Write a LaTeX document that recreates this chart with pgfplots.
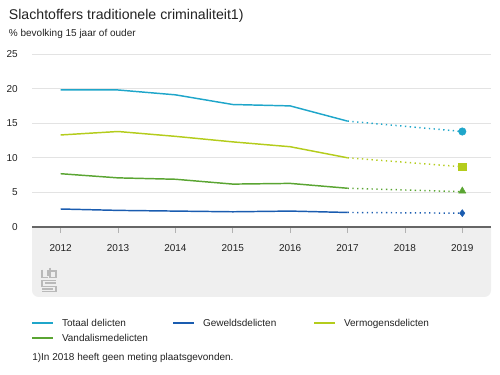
\documentclass[border=0pt]{standalone}
\usepackage{pgfplots}
\pgfplotsset{compat=1.18}
\usepackage{fontspec}
\setmainfont{Liberation Sans}
\definecolor{cTot}{HTML}{1FA6CA}
\definecolor{cGew}{HTML}{1A5CB0}
\definecolor{cVer}{HTML}{B4CC1C}
\definecolor{cVan}{HTML}{5AA532}
\definecolor{cBand}{HTML}{EFEFEF}
\definecolor{cGrid}{HTML}{E3E3E3}
\definecolor{cAxis}{HTML}{666666}
\definecolor{cText}{HTML}{222222}
\begin{document}
\begin{tikzpicture}
\useasboundingbox (0pt,0pt) rectangle (375pt,281.25pt);
% gray band below axis
\fill[cBand] (24pt,111pt) {[rounded corners=5pt] -- (24pt,58.5pt) -- (368.25pt,58.5pt)} -- (368.25pt,111pt) -- cycle;
% logo approximation
\begin{scope}[draw=gray!55, line width=0.8pt]
\draw (31.5pt,79pt) -- (31.5pt,73pt) -- (36pt,73pt);
\draw (36pt,74.5pt) -- (36pt,78.5pt);
\draw (37.5pt,80.5pt) -- (37.5pt,73pt) -- (42pt,73pt) -- (42pt,78pt) -- (37.5pt,78pt);
\draw (31.5pt,71pt) -- (42pt,71pt);
\draw (31.5pt,71pt) -- (31.5pt,66.5pt) -- (42pt,66.5pt) -- (42pt,62.5pt) -- (31.5pt,62.5pt);
\draw (33.5pt,69pt) -- (42pt,69pt);
\draw (31.5pt,64.5pt) -- (40pt,64.5pt);
\end{scope}
\begin{axis}[
  at={(24pt,111pt)}, anchor=south west,
  width=344.25pt, height=129.75pt, scale only axis,
  xmin=2011.5, xmax=2019.5, ymin=0, ymax=25,
  xtick={2012,...,2019}, ytick={0,5,10,15,20,25},
  xticklabel style={/pgf/number format/1000 sep={}, anchor=center, yshift=-11pt, font=\fontsize{7.5}{9}\selectfont, text=cText},
  yticklabel style={anchor=east, inner sep=0pt, xshift=-10.5pt, font=\fontsize{7.5}{9}\selectfont, text=cText},
  /pgf/number format/assume math mode=true,
  axis x line*=bottom, axis y line*=left,
  x axis line style={draw=cAxis, line width=1.2pt},
  y axis line style={draw=none},
  ymajorgrids, grid style={cGrid, line width=0.6pt},
  xtick align=outside, ytick align=inside, major tick length=4.5pt,
  xtick style={draw=gray!60, line width=0.5pt},
  ytick style={draw=none},
  clip=false,
]
% solid parts
\addplot[cTot, line width=1.1pt] coordinates {(2012,19.8) (2013,19.8) (2014,19.1) (2015,17.7) (2016,17.5) (2017,15.3)};
\addplot[cVer, line width=1.1pt] coordinates {(2012,13.3) (2013,13.8) (2014,13.1) (2015,12.3) (2016,11.6) (2017,10.0)};
\addplot[cVan, line width=1.1pt] coordinates {(2012,7.7) (2013,7.1) (2014,6.9) (2015,6.2) (2016,6.3) (2017,5.6)};
\addplot[cGew, line width=1.1pt] coordinates {(2012,2.6) (2013,2.4) (2014,2.3) (2015,2.2) (2016,2.3) (2017,2.1)};
% dotted parts
\addplot[cTot, line width=1.1pt, dash pattern=on 1pt off 2.6pt] coordinates {(2017,15.3) (2019,13.8)};
\addplot[cVer, line width=1.1pt, dash pattern=on 1pt off 2.6pt] coordinates {(2017,10.0) (2019,8.7)};
\addplot[cVan, line width=1.1pt, dash pattern=on 1pt off 2.6pt] coordinates {(2017,5.6) (2019,5.1)};
\addplot[cGew, line width=1.1pt, dash pattern=on 1pt off 2.6pt] coordinates {(2017,2.1) (2019,2.0)};
% markers
\addplot[only marks, mark=*, mark size=2.8pt, cTot] coordinates {(2019,13.8)};
\addplot[only marks, mark=square*, mark size=2.7pt, cVer] coordinates {(2019,8.7)};
\addplot[only marks, mark=triangle*, mark size=3pt, cVan] coordinates {(2019,5.2)};
\addplot[only marks, mark=diamond*, mark size=2.6pt, cGew] coordinates {(2019,2.0)};
\end{axis}
% title
\node[anchor=base west, inner sep=0pt, text=cText] at (6.5pt,266.3pt) {\fontsize{10.6}{12}\selectfont Slachtoffers traditionele criminaliteit1)};
\node[anchor=base west, inner sep=0pt, text=cText] at (6.5pt,253.8pt) {\fontsize{7.5}{9}\selectfont \% bevolking 15 jaar of ouder};
% legend
\begin{scope}[line width=1.5pt]
\draw[cTot] (24pt,39pt) -- (39.75pt,39pt);
\node[anchor=base west, inner sep=0pt, text=cText, font=\fontsize{7.5}{9}\selectfont] at (45.75pt,36pt) {Totaal delicten};
\draw[cGew] (129.75pt,39pt) -- (145.5pt,39pt);
\node[anchor=base west, inner sep=0pt, text=cText, font=\fontsize{7.5}{9}\selectfont] at (151.5pt,36pt) {Geweldsdelicten};
\draw[cVer] (235.5pt,39pt) -- (251.25pt,39pt);
\node[anchor=base west, inner sep=0pt, text=cText, font=\fontsize{7.5}{9}\selectfont] at (257.25pt,36pt) {Vermogensdelicten};
\draw[cVan] (24pt,27.75pt) -- (39.75pt,27.75pt);
\node[anchor=base west, inner sep=0pt, text=cText, font=\fontsize{7.5}{9}\selectfont] at (45.75pt,24.75pt) {Vandalismedelicten};
\end{scope}
\node[anchor=base west, inner sep=0pt, text=cText, font=\fontsize{7.5}{9}\selectfont] at (24pt,10.8pt) {1)In 2018 heeft geen meting plaatsgevonden.};
\end{tikzpicture}
\end{document}
